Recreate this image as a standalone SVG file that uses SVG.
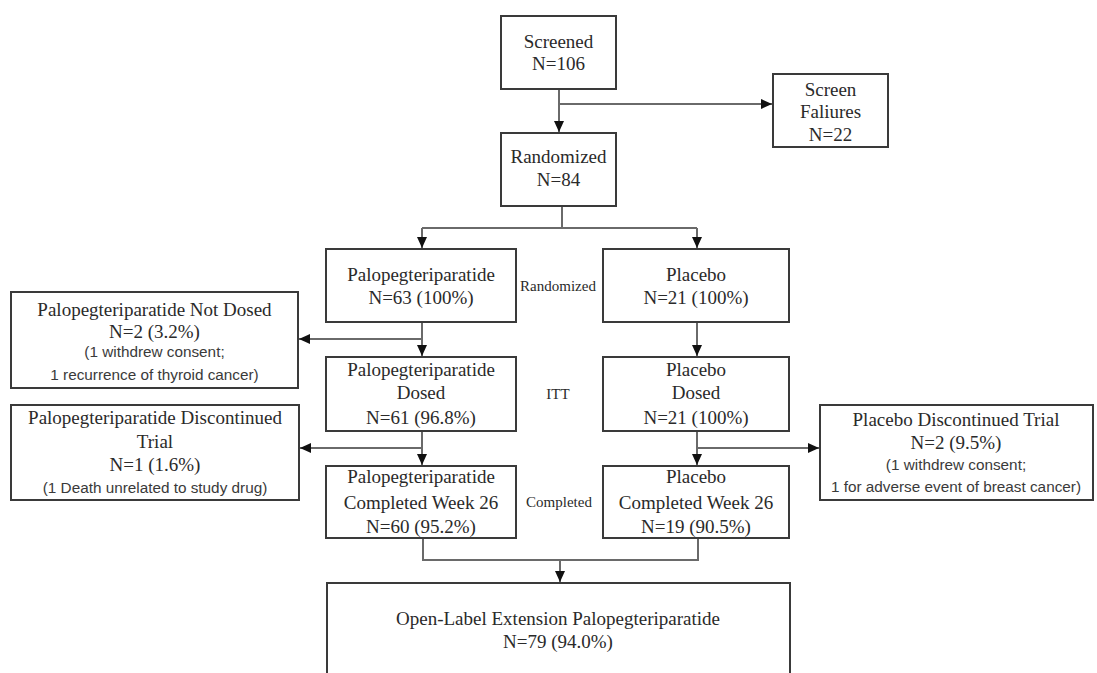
<svg xmlns="http://www.w3.org/2000/svg" width="1097" height="673" viewBox="0 0 1097 673">
<defs>
<style>
.box{fill:#fff;stroke:#3a3a3a;stroke-width:2}
.ln{fill:none;stroke:#6a6a6a;stroke-width:2}
.s{font-family:"Liberation Serif","Times New Roman",serif;font-size:19px;fill:#2a2a2a;text-anchor:middle}
.a{font-family:"Liberation Sans",Arial,sans-serif;font-size:15.3px;fill:#3a3a3a;text-anchor:middle}
.sm{font-family:"Liberation Serif","Times New Roman",serif;font-size:15px;fill:#2a2a2a;text-anchor:middle}
</style>
<marker id="ah" markerUnits="userSpaceOnUse" markerWidth="12" markerHeight="12" viewBox="0 0 12 12" refX="11" refY="6" orient="auto">
<path d="M0,1 L11,6 L0,11 Z" fill="#111"/>
</marker>
</defs>
<rect width="1097" height="673" fill="#fff"/>
<g id="connectors">
<path class="ln" d="M559,89 V132" marker-end="url(#ah)"/>
<path class="ln" d="M559,104 H772" marker-end="url(#ah)"/>
<path class="ln" d="M562,206 V228 M422,228 H697"/>
<path class="ln" d="M422,228 V248" marker-end="url(#ah)"/>
<path class="ln" d="M697,228 V248" marker-end="url(#ah)"/>
<path class="ln" d="M422,322 V356" marker-end="url(#ah)"/>
<path class="ln" d="M422,339 H299" marker-end="url(#ah)"/>
<path class="ln" d="M697,322 V356" marker-end="url(#ah)"/>
<path class="ln" d="M422,431 V465" marker-end="url(#ah)"/>
<path class="ln" d="M422,448 H300" marker-end="url(#ah)"/>
<path class="ln" d="M697,431 V465" marker-end="url(#ah)"/>
<path class="ln" d="M697,448 H819" marker-end="url(#ah)"/>
<path class="ln" d="M423,538 V560 H698 V538"/>
<path class="ln" d="M560,560 V582" marker-end="url(#ah)"/>
</g>
<g id="screened">
<rect class="box" x="501" y="16" width="115" height="73"/>
<text class="s" x="558.5" y="48">Screened</text>
<text class="s" x="558.5" y="70">N=106</text>
</g>
<g id="screen-failures">
<rect class="box" x="773" y="74" width="115" height="73"/>
<text class="s" x="830.5" y="96">Screen</text>
<text class="s" x="830.5" y="118">Faliures</text>
<text class="s" x="830.5" y="141">N=22</text>
</g>
<g id="randomized">
<rect class="box" x="501" y="133" width="115" height="73"/>
<text class="s" x="558.5" y="163">Randomized</text>
<text class="s" x="558.5" y="186">N=84</text>
</g>
<g id="palo">
<rect class="box" x="326" y="249" width="190" height="73"/>
<text class="s" x="421" y="281">Palopegteriparatide</text>
<text class="s" x="421" y="304">N=63 (100%)</text>
</g>
<g id="placebo">
<rect class="box" x="603" y="249" width="186" height="73"/>
<text class="s" x="696" y="281">Placebo</text>
<text class="s" x="696" y="304">N=21 (100%)</text>
</g>
<g id="label-randomized"><text class="sm" x="558" y="291">Randomized</text></g>
<g id="palo-not-dosed">
<rect class="box" x="11" y="292" width="287" height="96"/>
<text class="s" x="154.5" y="316">Palopegteriparatide Not Dosed</text>
<text class="s" x="154.5" y="338">N=2 (3.2%)</text>
<text class="a" x="154.5" y="357">(1 withdrew consent;</text>
<text class="a" x="154.5" y="380">1 recurrence of thyroid cancer)</text>
</g>
<g id="palo-dosed">
<rect class="box" x="326" y="357" width="190" height="74"/>
<text class="s" x="421" y="376">Palopegteriparatide</text>
<text class="s" x="421" y="399">Dosed</text>
<text class="s" x="421" y="424">N=61 (96.8%)</text>
</g>
<g id="placebo-dosed">
<rect class="box" x="603" y="357" width="186" height="74"/>
<text class="s" x="696" y="376">Placebo</text>
<text class="s" x="696" y="399">Dosed</text>
<text class="s" x="696" y="424">N=21 (100%)</text>
</g>
<g id="label-itt"><text class="sm" x="558" y="399">ITT</text></g>
<g id="palo-discontinued">
<rect class="box" x="11" y="405" width="288" height="95"/>
<text class="s" x="155" y="424">Palopegteriparatide Discontinued</text>
<text class="s" x="155" y="448">Trial</text>
<text class="s" x="155" y="471">N=1 (1.6%)</text>
<text class="a" x="155" y="493">(1 Death unrelated to study drug)</text>
</g>
<g id="placebo-discontinued">
<rect class="box" x="820" y="405" width="273" height="95"/>
<text class="s" x="956" y="426">Placebo Discontinued Trial</text>
<text class="s" x="956" y="449">N=2 (9.5%)</text>
<text class="a" x="956" y="470">(1 withdrew consent;</text>
<text class="a" x="956" y="492">1 for adverse event of breast cancer)</text>
</g>
<g id="palo-completed">
<rect class="box" x="326" y="466" width="190" height="72"/>
<text class="s" x="421" y="483">Palopegteriparatide</text>
<text class="s" x="421" y="509">Completed Week 26</text>
<text class="s" x="421" y="533">N=60 (95.2%)</text>
</g>
<g id="placebo-completed">
<rect class="box" x="603" y="466" width="186" height="72"/>
<text class="s" x="696" y="483">Placebo</text>
<text class="s" x="696" y="509">Completed Week 26</text>
<text class="s" x="696" y="533">N=19 (90.5%)</text>
</g>
<g id="label-completed"><text class="sm" x="559" y="507">Completed</text></g>
<g id="open-label">
<rect class="box" x="327" y="583" width="463" height="110"/>
<text class="s" x="558" y="625">Open-Label Extension Palopegteriparatide</text>
<text class="s" x="558" y="648">N=79 (94.0%)</text>
</g>
</svg>
